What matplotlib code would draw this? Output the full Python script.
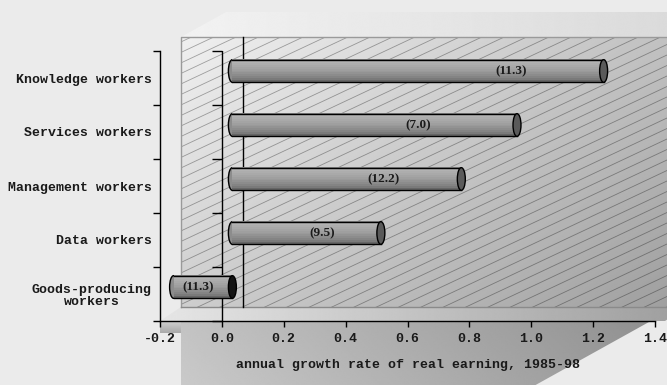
import numpy as np
import matplotlib.pyplot as plt
from matplotlib import transforms
from matplotlib.patches import Polygon, Ellipse
from matplotlib.collections import LineCollection

# worker groups, bottom to top
categories = ['Goods-producing\nworkers', 'Data workers', 'Management workers',
              'Services workers', 'Knowledge workers']
growth = [-0.19, 0.48, 0.74, 0.92, 1.20]
shares = ['(11.3)', '(9.5)', '(12.2)', '(7.0)', '(11.3)']
xticks = [-0.2, 0.0, 0.2, 0.4, 0.6, 0.8, 1.0, 1.2, 1.4]
xlabel = 'annual growth rate of real earning, 1985-98'

# where the share label sits along each bar (data units)
share_x = [-0.11, 0.29, 0.49, 0.60, 0.90]

W, H = 667, 385
MONO = 'Liberation Mono'
SERIF = 'Liberation Serif'

fig = plt.figure(figsize=(W / 100, H / 100), dpi=100, facecolor='#ebebeb')

ax = fig.add_axes([160 / W, (H - 321) / H, (655 - 160) / W, (321 - 51) / H], zorder=2)
ax.set_xlim(xticks[0], xticks[-1])
ax.set_ylim(-0.5, len(categories) - 0.5)
ax.set_facecolor('none')

bg = fig.add_axes([0, 0, 1, 1], zorder=0)
bg.set_xlim(0, W)
bg.set_ylim(0, H)
bg.axis('off')

# depth of the 3d box, in pixels
DX, DY = 21, 14
wall_tr = ax.transData + transforms.ScaledTranslation(DX / 100, DY / 100, fig.dpi_scale_trans)
mid_tr = ax.transData + transforms.ScaledTranslation(DX / 200, DY / 200, fig.dpi_scale_trans)

# front frame corners in pixels
fx0, fy0 = ax.transData.transform((xticks[0], -0.5))
fx1, fy1 = ax.transData.transform((xticks[-1], len(categories) - 0.5))
wx0, wy0, wx1, wy1 = fx0 + DX, fy0 + DY, fx1 + DX, fy1 + DY
SLANT = 1.8


def shade(xy, v0, v1, wx, wy, z):
    """fill polygon xy with a grey gradient, v0 -> v1 along (wx, wy)"""
    poly = Polygon(xy, closed=True, fc='none', ec='none')
    bg.add_patch(poly)
    xs, ys = np.array(xy).T
    gx, gy = np.meshgrid(np.linspace(0, 1, 256), np.linspace(0, 1, 256))
    t = wx * gx + wy * gy
    t = (t - t.min()) / (t.max() - t.min())
    im = bg.imshow(v0 + (v1 - v0) * t, cmap='gray', vmin=0, vmax=1, origin='lower',
                   extent=(xs.min(), xs.max(), ys.min(), ys.max()), aspect='auto',
                   interpolation='bilinear', zorder=z)
    im.set_clip_path(poly)
    return poly


# shadow below the box
shade([(wx0, wy0), (wx0, 0), (wx1 - wy0 * SLANT, 0), (wx1, wy0)], 0.79, 0.55, 1, 0.15, 1)
# front face of the floor slab
shade([(fx0, fy0 - 12), (wx0, fy0 - 12), (wx0, fy0), (fx0, fy0)], 0.66, 0.82, 0, 1, 0.5)
# floor
shade([(fx0, fy0), (wx0, wy0), (wx1 + 10, wy0), (fx1 + 10, fy0)], 0.90, 0.62, 1, 0, 2)
# light ledge above the back wall
shade([(wx0, wy1), (wx0 + 25 * SLANT, wy1 + 25), (W + 40, wy1 + 25), (W + 40, wy1)],
      0.95, 0.85, 1, 0, 2)
# back wall
wall = shade([(wx0, wy0), (wx0, wy1), (W + 40, wy1), (W + 40, wy0)], 0.94, 0.61, 0.6, -0.4, 2)

# hatch on the back wall
slope, step = 0.47, 10.5
segs = []
for c in np.arange(wy0 - slope * (W - wx0) - step, wy1 + step, step):
    segs.append([(wx0, c), (W + 40, c + slope * (W + 40 - wx0))])
hatch = LineCollection(segs, colors='black', linewidths=0.6, alpha=0.33, zorder=3)
bg.add_collection(hatch)
hatch.set_clip_path(wall)

bg.plot([wx0, wx0, W + 40], [wy0, wy1, wy1], color='#9a9a9a', lw=1, zorder=4)
bg.plot([wx0, W + 40], [wy0, wy0], color='#8a8a8a', lw=1, zorder=4)
bg.set_xlim(0, W)
bg.set_ylim(0, H)

pos = np.arange(len(categories))
bounds = np.arange(len(categories) + 1) - 0.5

# zero lines on the back wall and at the front
ax.plot([0, 0], [bounds[0], bounds[-1]], transform=wall_tr, color='black', lw=1,
        zorder=1, clip_on=False)
ax.axvline(0, color='black', lw=1, zorder=1.5)
ax.plot(np.zeros(len(bounds)), bounds, ls='none', marker=0, ms=7, mew=1,
        color='black', zorder=1.5, clip_on=False)

# cylinders
bar_h = 0.42
cap_w = 8 / 310
prof_t = [0.0, 0.12, 0.3, 0.55, 0.85, 1.0]
prof_v = [0.42, 0.70, 0.66, 0.60, 0.50, 0.36]
n = 12
for i, (p, g) in enumerate(zip(pos, growth)):
    lo, hi = min(g, 0), max(g, 0)
    ax.add_patch(Ellipse((lo, p), cap_w, bar_h, transform=mid_tr, fc='#8c8c8c',
                         ec='black', lw=1, zorder=3.5))
    for k in range(n):
        v = np.interp((k + 0.5) / n, prof_t, prof_v)
        ax.barh(p + bar_h / 2 - (k + 1) * bar_h / n, g, height=bar_h / n * 1.25, left=0,
                align='edge', color=str(v), lw=0, transform=mid_tr, zorder=4)
    ax.plot([lo, hi], [p + bar_h / 2] * 2, color='black', lw=1, transform=mid_tr, zorder=4.5)
    ax.plot([lo, hi], [p - bar_h / 2] * 2, color='black', lw=1, transform=mid_tr, zorder=4.5)
    ax.add_patch(Ellipse((hi, p), cap_w, bar_h, transform=mid_tr,
                         fc='#141414' if g < 0 else '#5a5a5a', ec='black', lw=1, zorder=5))
    ax.text(share_x[i], p, shares[i], transform=mid_tr, ha='center', va='center',
            family=SERIF, weight='bold', fontsize=9.5, color='#1a1a1a', zorder=6)

# axes
for s in ['top', 'right']:
    ax.spines[s].set_visible(False)
for s in ['left', 'bottom']:
    ax.spines[s].set_linewidth(1)
    ax.spines[s].set_zorder(6)

ax.set_xticks(xticks)
ax.set_xticklabels(['%.1f' % t for t in xticks], family=MONO, weight='bold',
                   fontsize=9.5, color='#1a1a1a')
ax.tick_params(axis='x', direction='out', length=4, width=1, pad=4.5)

ax.set_yticks(pos)
ax.set_yticklabels(categories, family=MONO, weight='bold', fontsize=9.5,
                   color='#1a1a1a', linespacing=1.05)
for lbl in ax.get_yticklabels():
    lbl.set_multialignment('center')
ax.set_yticks(bounds, minor=True)
ax.tick_params(axis='y', which='major', length=0, pad=5.8)
ax.tick_params(axis='y', which='minor', direction='out', length=5, width=1)

ax.set_xlabel(xlabel, family=MONO, weight='bold', fontsize=9.5, color='#1a1a1a',
              labelpad=10)

fig.savefig('out.png', dpi=100, facecolor=fig.get_facecolor())
